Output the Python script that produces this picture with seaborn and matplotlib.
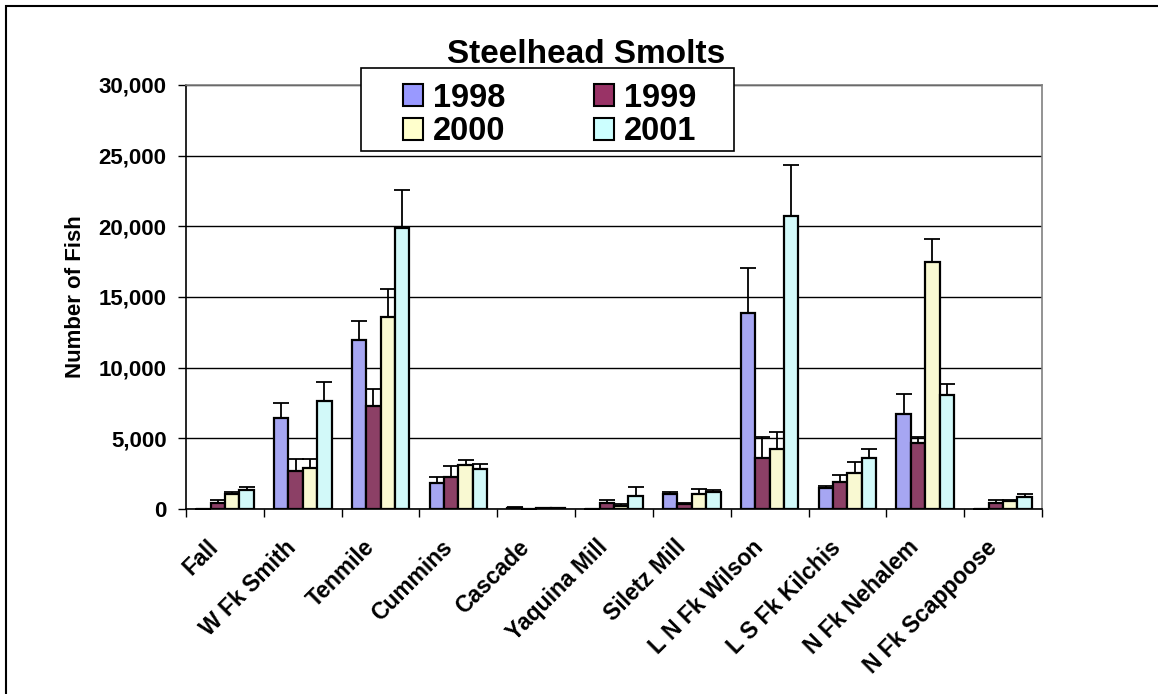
import numpy as np
import pandas as pd
import seaborn as sns
import matplotlib.pyplot as plt
from matplotlib.patches import Patch, Rectangle
from matplotlib.ticker import FuncFormatter, FixedLocator
from matplotlib.transforms import ScaledTranslation

sites = ["Fall", "W Fk Smith", "Tenmile", "Cummins", "Cascade", "Yaquina Mill",
         "Siletz Mill", "L N Fk Wilson", "L S Fk Kilchis", "N Fk Nehalem",
         "N Fk Scappoose"]
years = ["1998", "1999", "2000", "2001"]

fish_1998 = [10, 6420, 11960, 1820, 60, 20, 1040, 13870, 1510, 6750, 0]
fish_1999 = [450, 2690, 7310, 2240, 0, 450, 350, 3590, 1935, 4650, 400]
fish_2000 = [1040, 2880, 13610, 3110, 50, 235, 1060, 4220, 2550, 17480, 590]
fish_2001 = [1345, 7640, 19860, 2850, 60, 920, 1225, 20730, 3590, 8090, 870]

# upper error (only the plus side is drawn)
err_1998 = [0, 1060, 1340, 420, 50, 0, 180, 3180, 140, 1360, 0]
err_1999 = [190, 820, 1180, 800, 0, 190, 50, 1500, 465, 440, 240]
err_2000 = [180, 630, 1960, 360, 40, 115, 355, 1210, 780, 1650, 50]
err_2001 = [185, 1320, 2690, 310, 40, 640, 145, 3610, 630, 730, 190]

colors = ["#9999FF", "#993366", "#FFFFCC", "#CCFFFF"]

values = [fish_1998, fish_1999, fish_2000, fish_2001]
errors = [err_1998, err_1999, err_2000, err_2001]

rows = []
for yr, vals in zip(years, values):
    for site, v in zip(sites, vals):
        rows.append({"Site": site, "Year": yr, "Fish": v})
df = pd.DataFrame(rows)

sns.set_style("white")
plt.rcParams["font.family"] = ["Liberation Sans", "DejaVu Sans"]
plt.rcParams["font.weight"] = "bold"
for key in ["text.color", "axes.labelcolor", "xtick.color", "ytick.color"]:
    plt.rcParams[key] = "black"

fig = plt.figure(figsize=(11.58, 6.94), dpi=100)
ax = fig.add_axes([186 / 1158, 1 - 509 / 694, 856 / 1158, 424 / 694])

sns.barplot(data=df, x="Site", y="Fish", hue="Year", hue_order=years,
            palette=colors, width=0.74, edgecolor="black", linewidth=1.6,
            errorbar=None, legend=False, ax=ax, zorder=3)

# error bars (plus side only)
for cont, errs in zip(ax.containers, errors):
    xs = [b.get_x() + b.get_width() / 2 for b in cont]
    ys = [b.get_height() for b in cont]
    ax.errorbar(xs, ys, yerr=[np.zeros(len(errs)), errs], fmt="none",
                ecolor="black", elinewidth=1.3, capsize=6, capthick=1.3,
                zorder=2)

ax.set_ylim(0, 30000)
ax.set_xlim(-0.5, len(sites) - 0.5)
ax.yaxis.set_major_locator(FixedLocator(np.arange(0, 30001, 5000)))
ax.yaxis.set_major_formatter(FuncFormatter(lambda v, p: f"{int(v):,}"))
ax.yaxis.grid(True, color="black", linewidth=1.0, zorder=0)
ax.set_axisbelow(True)

ax.set_xticks(np.arange(-0.5, len(sites), 1.0))
ax.set_xticklabels([])
ax.set_xticks(np.arange(len(sites)), minor=True)
ax.set_xticklabels(sites, minor=True, rotation=45, ha="right", va="top",
                   rotation_mode="anchor", fontsize=16.5, fontweight="bold")
ax.tick_params(axis="x", which="major", direction="out", length=6, width=1,
               bottom=True, color="black")
ax.tick_params(axis="x", which="minor", length=0, pad=10)
ax.tick_params(axis="y", direction="out", length=6, width=1, left=True,
               labelsize=16, pad=8, color="black")
for lab in ax.get_yticklabels():
    lab.set_fontweight("bold")
# slide the slanted labels back along their own direction
shift = ScaledTranslation(-0.18, -0.13, fig.dpi_scale_trans)
for lab in ax.get_xticklabels(minor=True):
    lab.set_transform(lab.get_transform() + shift)

ax.set_xlabel("")
ax.set_ylabel("Number of Fish", fontsize=16, fontweight="bold")
ax.yaxis.set_label_coords(-0.117, 0.5)

for side in ["left", "bottom"]:
    ax.spines[side].set_color("black")
    ax.spines[side].set_linewidth(1.2)
for side in ["top", "right"]:
    ax.spines[side].set_color("#808080")
    ax.spines[side].set_linewidth(1.2)

fig.text(586 / 1158, 1 - 63 / 694, "Steelhead Smolts", ha="center",
         va="baseline", fontsize=24, fontweight="bold")

# legend box drawn separately, entries ordered row-wise
fig.patches.append(Rectangle((361 / 1158, 1 - 151 / 694), 373 / 1158, 83 / 694,
                             transform=fig.transFigure, facecolor="white",
                             edgecolor="black", linewidth=1.2, zorder=5))
handles = [Patch(facecolor=c, edgecolor="black", linewidth=1.5) for c in colors]
order = [0, 2, 1, 3]
leg = fig.legend([handles[i] for i in order], [years[i] for i in order],
                 ncol=2, frameon=False, loc="upper left",
                 bbox_to_anchor=(380 / 1158, 1 - 60 / 694),
                 prop={"size": 23.5, "weight": "bold"}, handlelength=0.63,
                 handleheight=0.66, handletextpad=0.3, columnspacing=2.7,
                 labelspacing=0.08, borderpad=0.2)
leg.set_zorder(6)

# outer chart border (right/bottom run off the picture)
fig.patches.append(Rectangle((6 / 1158, -0.1), 2, 1.1 - 6 / 694,
                             transform=fig.transFigure, fill=False,
                             edgecolor="black", linewidth=1.5))

fig.savefig("out.png", dpi=100)
